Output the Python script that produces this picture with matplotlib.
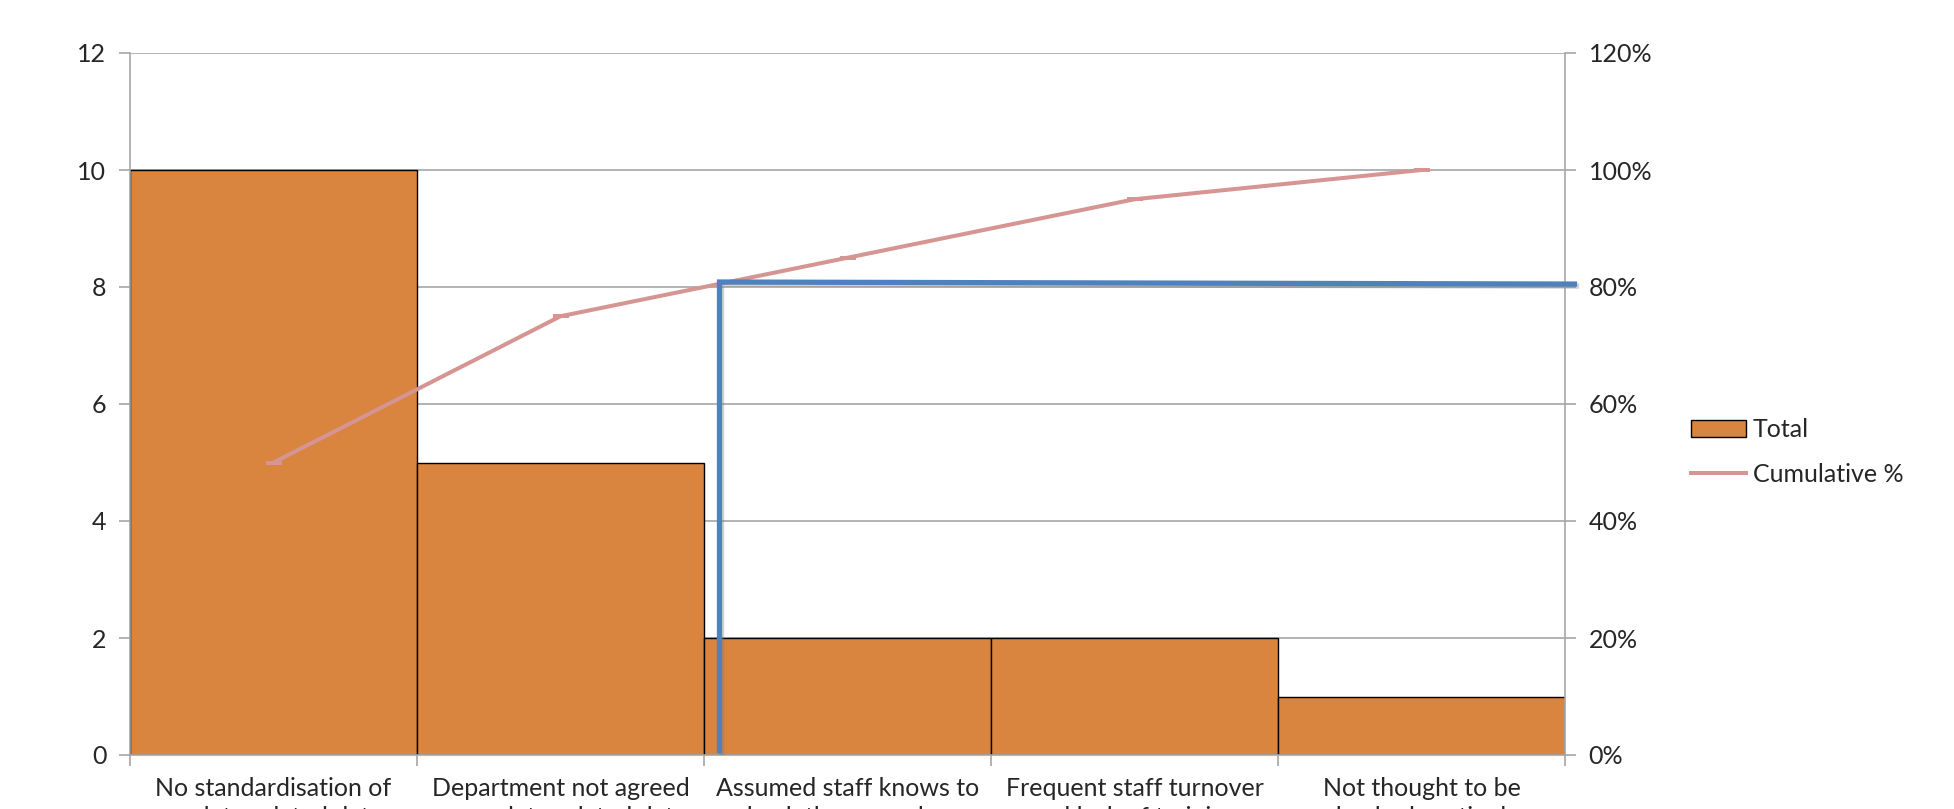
import matplotlib
matplotlib.use("Agg")
import matplotlib.pyplot as plt
import matplotlib.patheffects as pe
from matplotlib.lines import Line2D
from matplotlib.patches import Patch

categories = [
    "No standardisation of\nanalyte related data",
    "Department not agreed\non analyte related data",
    "Assumed staff knows to\ncheck the procedure",
    "Frequent staff turnover\nand lack of training",
    "Not thought to be\nchecked routinely",
]
totals = [10, 5, 2, 2, 1]
cumulative = [0.50, 0.75, 0.85, 0.95, 1.00]
y_ticks = [0, 2, 4, 6, 8, 10, 12]
y2_ticks = [0, 0.2, 0.4, 0.6, 0.8, 1.0, 1.2]
y2_labels = ["0%", "20%", "40%", "60%", "80%", "100%", "120%"]
# hand-drawn 80% cut-off line (x in category units, y as fraction)
cut_x = [1.554, 1.554, 4.542]
cut_y = [0.003, 0.8085, 0.805]

plt.rcParams['font.family'] = ['Lato', 'DejaVu Sans']
FS = 18
GRAY = '#A6A6A6'
TXT = '#262626'

fig = plt.figure(figsize=(19.54, 8.09), dpi=100)
ax = fig.add_axes([130/1954, 1-755/809, (1565-130)/1954, (755-53)/809])
ax2 = ax.twinx()

x = list(range(len(categories)))
ax.bar(x, totals, width=1.0, color='#D9843F', edgecolor='black', linewidth=1.0, zorder=2)
ax.set_xlim(-0.5, 4.5)
ax.set_ylim(0, 12)
ax.set_yticks(y_ticks)
ax.set_yticklabels([str(v) for v in y_ticks], fontsize=FS, color=TXT)
ax.yaxis.grid(True, color=GRAY, linewidth=1.2, zorder=0)
ax.set_axisbelow(True)
ax.set_xticks([-0.5, 0.5, 1.5, 2.5, 3.5, 4.5])
ax.set_xticklabels([])
ax.set_xticks(x, minor=True)
ax.set_xticklabels(categories, minor=True, fontsize=FS, color=TXT, linespacing=1.3)
ax.tick_params(axis='x', which='minor', length=0, pad=16)
ax.tick_params(axis='x', which='major', length=8, color=GRAY, width=1.2)
ax.tick_params(axis='y', length=8, color=GRAY, width=1.2, pad=9)
for s in ['top', 'right']:
    ax.spines[s].set_visible(False)
for s in ['left', 'bottom']:
    ax.spines[s].set_color(GRAY)
    ax.spines[s].set_linewidth(1.2)

ax2.set_ylim(0, 1.2)
ax2.set_yticks(y2_ticks)
ax2.set_yticklabels(y2_labels, fontsize=FS, color=TXT)
ax2.tick_params(axis='y', length=8, color=GRAY, width=1.2, pad=9)
for s in ['top', 'left', 'bottom']:
    ax2.spines[s].set_visible(False)
ax2.spines['right'].set_color(GRAY)
ax2.spines['right'].set_linewidth(1.2)

ax2.plot(x, cumulative, color='#D69492', linewidth=2.9, marker='_', markersize=11,
         markeredgewidth=2.9, solid_capstyle='butt', zorder=3)
ax2.plot(cut_x, cut_y, color='#4F81BD', linewidth=3.8, solid_joinstyle='miter',
         solid_capstyle='butt', clip_on=False, zorder=4,
         path_effects=[pe.SimpleLineShadow(offset=(1.5, -1.5), shadow_color='gray', alpha=0.35),
                       pe.Normal()])

handles = [Patch(facecolor='#D9843F', edgecolor='black', linewidth=1.0),
           Line2D([0], [0], color='#D69492', linewidth=2.9)]
fig.legend(handles, ['Total', 'Cumulative %'], loc='upper left',
           bbox_to_anchor=(1668/1954, 1-396/809), frameon=False, fontsize=FS,
           handlelength=2.2, handleheight=0.65, handletextpad=0.3, labelspacing=0.85,
           labelcolor=TXT)

fig.savefig('out.png', dpi=100)
